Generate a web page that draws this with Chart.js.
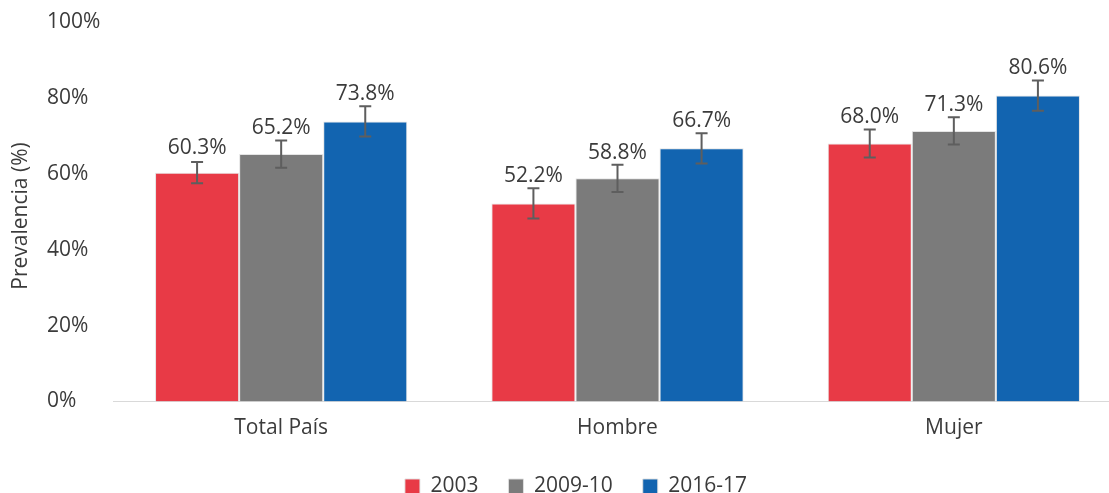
<!DOCTYPE html>
<html>
<head>
<meta charset="utf-8">
<script src="https://cdn.jsdelivr.net/npm/chart.js@4/dist/chart.umd.min.js"></script>
<style>
  html, body { margin: 0; padding: 0; background: #ffffff; overflow: hidden; }
  #wrap { position: absolute; left: 0; top: 0; width: 1122px; height: 507px; }
</style>
</head>
<body>
<div id="wrap"><canvas id="c" width="1122" height="507"></canvas></div>
<script>
const categories = ['Total País', 'Hombre', 'Mujer'];
const seriesNames = ['2003', '2009-10', '2016-17'];
const values2003 = [60.3, 52.2, 68.0];
const values2009 = [65.2, 58.8, 71.3];
const values2016 = [73.8, 66.7, 80.6];
const errors2003 = [2.8, 4.0, 3.7];
const errors2009 = [3.6, 3.6, 3.6];
const errors2016 = [4.0, 4.0, 4.0];
const yTicks = [0, 20, 40, 60, 80, 100];
const yTitle = 'Prevalencia (%)';

const colors = ['#E83A46', '#7B7B7B', '#1264B0'];
const FONT = "'Open Sans', 'Liberation Sans', sans-serif";
const TEXT = '#3b3b3b';

const seriesValues = [values2003, values2009, values2016];
const seriesErrors = [errors2003, errors2009, errors2016];

const overlay = {
  id: 'overlay',
  afterDatasetsDraw(chart) {
    const ctx = chart.ctx;
    const y = chart.scales.y;
    ctx.save();
    chart.data.datasets.forEach((ds, di) => {
      const meta = chart.getDatasetMeta(di);
      meta.data.forEach((bar, i) => {
        const v = ds.data[i];
        const e = seriesErrors[di][i];
        const yt = y.getPixelForValue(v + e);
        const yb = y.getPixelForValue(v - e);
        ctx.strokeStyle = '#5e5e5e';
        ctx.lineWidth = 2;
        ctx.beginPath();
        ctx.moveTo(bar.x, yt); ctx.lineTo(bar.x, yb);
        ctx.moveTo(bar.x - 6, yt); ctx.lineTo(bar.x + 6, yt);
        ctx.moveTo(bar.x - 6, yb); ctx.lineTo(bar.x + 6, yb);
        ctx.stroke();
        ctx.fillStyle = TEXT;
        ctx.font = '21px ' + FONT;
        ctx.textAlign = 'center';
        ctx.textBaseline = 'middle';
        const labelY = Math.min(bar.y - 25, yt - 12);
        ctx.fillText(v.toFixed(1) + '%', bar.x, labelY);
      });
    });
    ctx.translate(21, 216);
    ctx.rotate(-Math.PI / 2);
    ctx.fillStyle = TEXT;
    ctx.font = '21px ' + FONT;
    ctx.textAlign = 'center';
    ctx.textBaseline = 'middle';
    ctx.fillText(yTitle, 0, 0);
    ctx.restore();
  }
};

new Chart(document.getElementById('c'), {
  type: 'bar',
  data: {
    labels: categories,
    datasets: seriesNames.map((n, i) => ({
      label: n,
      data: seriesValues[i],
      backgroundColor: colors[i],
      borderColor: 'rgba(225,225,225,0.9)',
      borderWidth: 1,
      borderSkipped: 'bottom',
      categoryPercentage: 0.75,
      barPercentage: 1.0
    }))
  },
  options: {
    responsive: false,
    animation: false,
    layout: { padding: { left: 30, right: 0, top: 22, bottom: 0 } },
    plugins: {
      legend: {
        position: 'bottom',
        labels: {
          boxWidth: 15, boxHeight: 15, padding: 30,
          color: TEXT,
          font: { family: FONT, size: 21 }
        }
      },
      tooltip: { enabled: false }
    },
    scales: {
      x: {
        grid: { display: false, drawTicks: false },
        border: { display: true, color: '#d9d9d9', width: 1 },
        ticks: { color: TEXT, font: { family: FONT, size: 21 }, padding: 14 },
        afterFit(s) { s.height = 44.5; }
      },
      y: {
        position: 'left',
        weight: 0,
        min: 0, max: 100,
        afterBuildTicks(s) { s.ticks = yTicks.map(v => ({ value: v })); },
        grid: { display: false, drawTicks: false },
        border: { display: false },
        ticks: {
          crossAlign: 'far',
          color: TEXT,
          font: { family: FONT, size: 21 },
          callback: v => v + '%'
        },
        afterFit(s) { s.width = 66; }
      },
      yPad: {
        type: 'linear',
        position: 'left',
        weight: 1,
        display: true,
        grid: { display: false, drawTicks: false },
        border: { display: false },
        ticks: { display: false },
        afterFit(s) { s.width = 17; }
      }
    }
  },
  plugins: [overlay]
});
</script>
</body>
</html>
